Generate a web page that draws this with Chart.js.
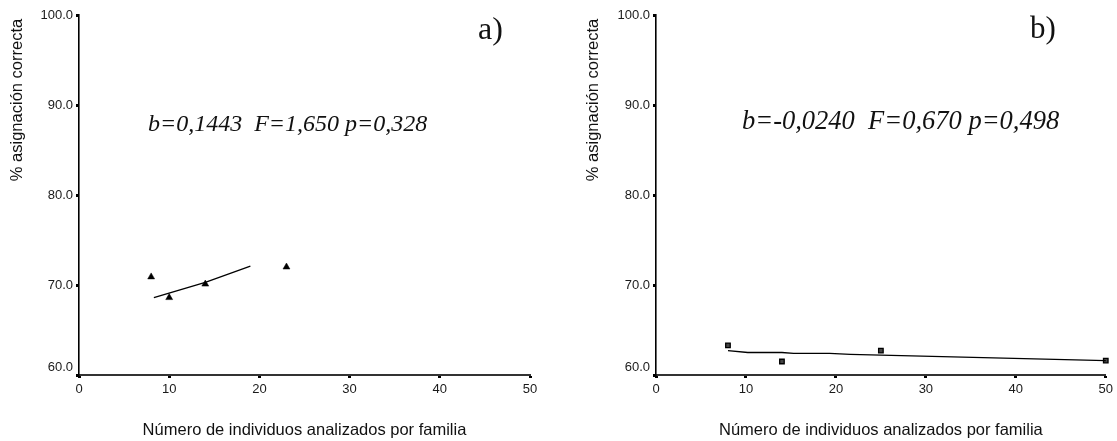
<!DOCTYPE html>
<html>
<head>
<meta charset="utf-8">
<script src="https://cdn.jsdelivr.net/npm/chart.js@4.4.1/dist/chart.umd.min.js"></script>
<style>
  html, body { margin: 0; padding: 0; background: #fff; overflow: hidden; }
  canvas { position: absolute; top: 0; }
  #ca { left: 0; }
  #cb { left: 558px; }
</style>
</head>
<body>
<canvas id="ca" width="558" height="441"></canvas>
<canvas id="cb" width="559" height="441"></canvas>
<script>
// ---- data ----
const xTickValues = [0, 10, 20, 30, 40, 50];
const yTickValues = [60, 70, 80, 90, 100];

const aPointsX = [8, 10, 14, 23];
const aPointsY = [70.9, 68.6, 70.1, 72.0];
const aFitX = [8.3, 14, 19];
const aFitY = [68.6, 70.3, 72.1];

const bPointsX = [8, 14, 25, 50];
const bPointsY = [63.3, 61.5, 62.7, 61.6];
const bFitX = [8, 10.2, 14, 15.3, 19.3, 21.6, 50];
const bFitY = [62.7, 62.5, 62.5, 62.4, 62.4, 62.3, 61.6];

const xTitle = 'Número de individuos analizados por familia';
const yTitle = '% asignación correcta';
const statsA = 'b=0,1443  F=1,650 p=0,328';
const statsB = 'b=-0,0240  F=0,670 p=0,498';
const labelA = 'a)';
const labelB = 'b)';

// ---- helpers ----
function pairs(xs, ys) { return xs.map((x, i) => ({ x: x, y: ys[i] })); }

const SANS = '"Liberation Sans", Arial, sans-serif';
const SERIF = '"Liberation Serif", "Times New Roman", serif';

const textPlugin = {
  id: 'txt',
  afterDraw(chart, args, o) {
    const ctx = chart.ctx;
    const ca = chart.chartArea;
    ctx.save();
    ctx.fillStyle = '#111';
    // y title (rotated)
    ctx.font = '16.5px ' + SANS;
    ctx.save();
    ctx.translate(o.yTitleX, o.yTitleY);
    ctx.rotate(-Math.PI / 2);
    ctx.textAlign = 'center';
    ctx.textBaseline = 'middle';
    ctx.fillText(o.yTitle, 0, 0);
    ctx.restore();
    // x title
    ctx.textAlign = 'center';
    ctx.textBaseline = 'alphabetic';
    ctx.fillText(o.xTitle, (ca.left + ca.right) / 2, o.xTitleBase);
    // stats text
    ctx.textAlign = 'left';
    ctx.font = 'italic ' + o.statsSize + 'px ' + SERIF;
    ctx.fillText(o.stats, o.statsX, o.statsBase);
    // panel label
    ctx.font = o.labelSize + 'px ' + SERIF;
    ctx.fillText(o.label, o.labelX, o.labelBase);
    ctx.restore();
  }
};

function makeChart(id, pts, fit, ptStyle, yWidth, rightPad, txt) {
  const scatterDs = {
    type: 'scatter',
    data: pts,
    pointStyle: ptStyle,
    pointRadius: ptStyle === 'triangle' ? 4 : 3.2,
    backgroundColor: ptStyle === 'triangle' ? '#000' : '#444',
    borderColor: '#000',
    borderWidth: ptStyle === 'triangle' ? 0.5 : 1.3,
    showLine: false,
    clip: false
  };
  const lineDs = {
    type: 'line',
    data: fit,
    borderColor: '#000',
    borderWidth: 1.3,
    pointRadius: 0,
    fill: false,
    tension: 0,
    clip: false
  };
  return new Chart(document.getElementById(id), {
    type: 'scatter',
    data: { datasets: [lineDs, scatterDs] },
    options: {
      responsive: false,
      animation: false,
      devicePixelRatio: 1,
      layout: { padding: { top: 15, right: rightPad, left: 0, bottom: 0 } },
      plugins: {
        legend: { display: false },
        tooltip: { enabled: false },
        txt: txt
      },
      scales: {
        x: {
          type: 'linear',
          min: xTickValues[0],
          max: xTickValues[xTickValues.length - 1],
          afterBuildTicks: (s) => { s.ticks = xTickValues.map(v => ({ value: v })); },
          ticks: {
            color: '#1a1a1a',
            font: { family: SANS, size: 13 },
            padding: 4,
            maxRotation: 0,
            autoSkip: false
          },
          grid: {
            display: true,
            drawOnChartArea: false,
            drawTicks: true,
            tickLength: 3,
            tickWidth: 3,
            tickColor: '#000'
          },
          border: { display: true, color: '#333', width: 2 },
          afterFit: (s) => { s.height = 66; }
        },
        y: {
          type: 'linear',
          min: yTickValues[0],
          max: yTickValues[yTickValues.length - 1],
          afterBuildTicks: (s) => { s.ticks = yTickValues.map(v => ({ value: v })); },
          ticks: {
            color: '#1a1a1a',
            font: { family: SANS, size: 13 },
            padding: 3,
            // lowest label sits just above the x axis, as in the reference
            callback: (v) => v === yTickValues[0] ? [Number(v).toFixed(1), ''] : Number(v).toFixed(1)
          },
          grid: {
            display: true,
            drawOnChartArea: false,
            drawTicks: true,
            tickLength: 3,
            tickWidth: 3,
            tickColor: '#000'
          },
          border: { display: true, color: '#000', width: 1.6 },
          afterFit: (s) => { s.width = yWidth; }
        }
      }
    },
    plugins: [textPlugin]
  });
}

makeChart('ca', pairs(aPointsX, aPointsY), pairs(aFitX, aFitY), 'triangle', 79, 28, {
  yTitle: yTitle, yTitleX: 17, yTitleY: 100,
  xTitle: xTitle, xTitleBase: 435,
  stats: statsA, statsSize: 24, statsX: 148, statsBase: 131,
  label: labelA, labelSize: 32, labelX: 478, labelBase: 39
});

makeChart('cb', pairs(bPointsX, bPointsY), pairs(bFitX, bFitY), 'rect', 98, 11, {
  yTitle: yTitle, yTitleX: 35, yTitleY: 100,
  xTitle: xTitle, xTitleBase: 435,
  stats: statsB, statsSize: 26.5, statsX: 184, statsBase: 129,
  label: labelB, labelSize: 31, labelX: 472, labelBase: 38
});
</script>
</body>
</html>
